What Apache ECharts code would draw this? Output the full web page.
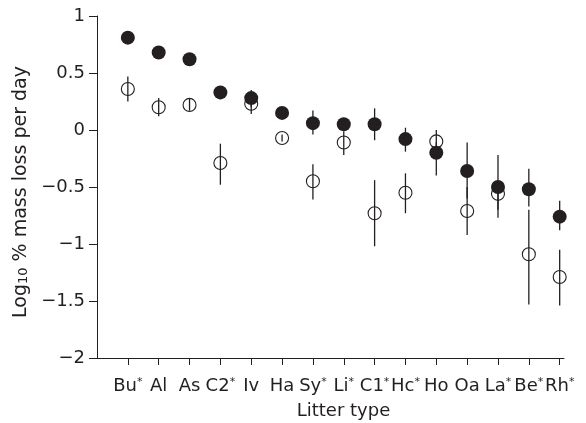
<!DOCTYPE html>
<html>
<head>
<meta charset="utf-8">
<script src="https://cdn.jsdelivr.net/npm/echarts@6/dist/echarts.min.js"></script>
<style>
  html, body { margin: 0; padding: 0; background: #fff; }
  #main { width: 586px; height: 423px; }
</style>
</head>
<body>
<div id="main"></div>
<script>
// litter types (starred ones get a superscript *)
var litterNames = ['Bu', 'Al', 'As', 'C2', 'Iv', 'Ha', 'Sy', 'Li', 'C1', 'Hc', 'Ho', 'Oa', 'La', 'Be', 'Rh'];
var litterStar = [true, false, false, true, false, false, true, true, true, true, false, false, true, true, true];

// filled circles
var filledMean = [0.81, 0.68, 0.62, 0.33, 0.28, 0.15, 0.06, 0.05, 0.05, -0.08, -0.20, -0.36, -0.50, -0.52, -0.76];
var filledLow  = [0.78, 0.65, 0.59, 0.27, 0.20, 0.12, -0.04, 0.01, -0.09, -0.19, -0.40, -0.60, -0.70, -0.67, -0.88];
var filledHigh = [0.84, 0.71, 0.65, 0.38, 0.35, 0.18, 0.17, 0.10, 0.19, 0.02, -0.11, -0.11, -0.22, -0.34, -0.62];

// open circles
var openMean = [0.36, 0.20, 0.22, -0.29, 0.23, -0.07, -0.45, -0.11, -0.73, -0.55, -0.10, -0.71, -0.56, -1.09, -1.29];
var openLow  = [0.25, 0.12, 0.17, -0.48, 0.14, -0.10, -0.61, -0.22, -1.02, -0.73, -0.19, -0.92, -0.77, -1.53, -1.54];
var openHigh = [0.47, 0.28, 0.28, -0.12, 0.30, -0.04, -0.30, -0.01, -0.44, -0.38, 0.00, -0.50, -0.45, -0.70, -1.05];

var ink = '#231f20';
var fontName = 'DejaVu Sans';

var positions = litterNames.map(function (n, i) { return i + 1; });

function pts(vals) {
    return vals.map(function (v, i) { return [i + 1, v]; });
}
function bars(lo, hi) {
    return lo.map(function (v, i) { return [i + 1, v, hi[i]]; });
}
// vertical error bar from low to high
function renderBar(params, api) {
    var x = api.value(0);
    var a = api.coord([x, api.value(1)]);
    var b = api.coord([x, api.value(2)]);
    return {
        type: 'line',
        shape: { x1: a[0], y1: a[1], x2: b[0], y2: b[1] },
        style: { stroke: ink, lineWidth: 1.3 }
    };
}

var chart = echarts.init(document.getElementById('main'));
var option = {
    animation: false,
    backgroundColor: '#fff',
    textStyle: { fontFamily: fontName, color: ink },
    grid: { left: 97, right: 22, top: 16, bottom: 65, outerBoundsMode: 'none' },
    xAxis: {
        type: 'value',
        min: 0,
        max: 15.14,
        name: 'Litter type',
        nameLocation: 'middle',
        nameGap: 44,
        nameTextStyle: { fontSize: 18, color: ink, fontFamily: fontName, padding: [0, 0, 0, 26] },
        axisLine: { show: true, onZero: false, lineStyle: { color: ink, width: 1 } },
        axisTick: { show: true, length: 7, customValues: positions, lineStyle: { color: ink } },
        splitLine: { show: false },
        axisLabel: {
            customValues: positions,
            margin: 19,
            fontSize: 18,
            color: ink,
            fontFamily: fontName,
            formatter: function (v) {
                var i = Math.round(v) - 1;
                if (i < 0 || i >= litterNames.length) return '';
                return litterNames[i] + (litterStar[i] ? '{s|*}' : '');
            },
            rich: {
                s: { fontSize: 11, lineHeight: 11, verticalAlign: 'top', color: ink, fontFamily: fontName }
            }
        }
    },
    yAxis: {
        type: 'value',
        min: -2,
        max: 1,
        interval: 0.5,
        name: '{n|Log}{sub|10}{n| % mass loss per day}',
        nameLocation: 'middle',
        nameRotate: 90,
        nameGap: 66,
        nameTextStyle: {
            fontSize: 19, color: ink, fontFamily: fontName, padding: [0, 10, 0, 0],
            rich: {
                n: { fontSize: 19, lineHeight: 19, verticalAlign: 'top', color: ink, fontFamily: fontName },
                sub: { fontSize: 13, lineHeight: 13, padding: [10, 0, 0, 0], verticalAlign: 'bottom', color: ink, fontFamily: fontName }
            }
        },
        axisLine: { show: true, lineStyle: { color: ink, width: 1 } },
        axisTick: { show: true, length: 8, lineStyle: { color: ink } },
        splitLine: { show: false },
        axisLabel: {
            margin: 12,
            fontSize: 18,
            color: ink,
            fontFamily: fontName,
            formatter: function (v) {
                return v < 0 ? '\u2212' + Math.abs(v) : String(v);
            }
        }
    },
    series: [
        {
            type: 'custom',
            renderItem: renderBar,
            data: bars(openLow, openHigh),
            z: 2
        },
        {
            type: 'scatter',
            data: pts(openMean),
            symbol: 'circle',
            symbolSize: 13,
            itemStyle: { color: 'rgba(0,0,0,0)', borderColor: ink, borderWidth: 1.1, opacity: 1 },
            z: 3
        },
        {
            type: 'custom',
            renderItem: renderBar,
            data: bars(filledLow, filledHigh),
            z: 4
        },
        {
            type: 'scatter',
            data: pts(filledMean),
            symbol: 'circle',
            symbolSize: 14,
            itemStyle: { color: ink, opacity: 1 },
            z: 5
        }
    ]
};
chart.setOption(option);
</script>
</body>
</html>
